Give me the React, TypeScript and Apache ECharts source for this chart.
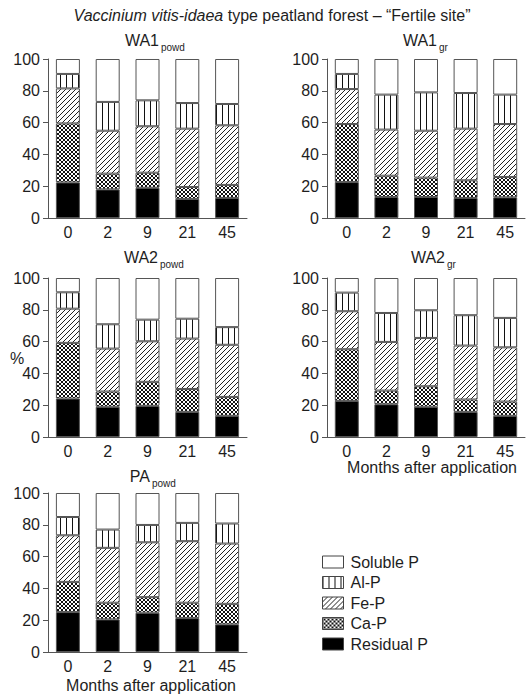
import React, { useEffect, useRef } from 'react';
import * as echarts from 'echarts';

// ---------- data ----------
const months = ['0', '2', '9', '21', '45'];
const legendOrder = ['Soluble P', 'Al-P', 'Fe-P', 'Ca-P', 'Residual P'];

// WA1 powd
const wa1powdResidual = [22.4, 18.0, 19.0, 12.0, 12.6];
const wa1powdCa = [37.1, 9.9, 9.5, 7.5, 8.2];
const wa1powdFe = [22.0, 27.0, 29.2, 36.7, 37.5];
const wa1powdAl = [9.1, 18.1, 16.3, 16.1, 13.4];
const wa1powdSoluble = [9.4, 27.0, 26.0, 27.7, 28.3];

// WA1 gr
const wa1grResidual = [22.6, 13.2, 13.2, 12.6, 13.0];
const wa1grCa = [36.5, 13.4, 12.2, 11.1, 12.8];
const wa1grFe = [22.0, 29.0, 29.5, 32.5, 33.3];
const wa1grAl = [9.5, 22.0, 24.1, 22.4, 18.5];
const wa1grSoluble = [9.4, 22.4, 21.0, 21.4, 22.4];

// WA2 powd
const wa2powdResidual = [24.2, 19.0, 19.6, 15.8, 13.3];
const wa2powdCa = [35.0, 9.6, 15.1, 14.4, 11.9];
const wa2powdFe = [21.5, 27.0, 25.5, 31.7, 32.8];
const wa2powdAl = [10.3, 15.3, 13.6, 12.5, 11.1];
const wa2powdSoluble = [9.0, 29.1, 26.2, 25.6, 30.9];

// WA2 gr
const wa2grResidual = [22.7, 20.6, 19.0, 15.8, 13.3];
const wa2grCa = [32.5, 8.6, 12.9, 7.8, 9.0];
const wa2grFe = [23.9, 30.6, 30.4, 33.9, 34.1];
const wa2grAl = [11.7, 18.2, 17.4, 19.1, 18.5];
const wa2grSoluble = [9.2, 22.0, 20.3, 23.4, 25.1];

// PA powd
const papowdResidual = [25.1, 20.5, 24.7, 21.3, 17.4];
const papowdCa = [19.0, 10.5, 9.8, 9.7, 12.9];
const papowdFe = [29.3, 34.5, 34.5, 38.7, 37.9];
const papowdAl = [11.5, 11.5, 10.9, 11.5, 12.6];
const papowdSoluble = [15.1, 23.0, 20.1, 18.8, 19.2];

const panelData = [
  { main: 'WA1', sub: 'powd', residual: wa1powdResidual, ca: wa1powdCa, fe: wa1powdFe, al: wa1powdAl, soluble: wa1powdSoluble },
  { main: 'WA1', sub: 'gr', residual: wa1grResidual, ca: wa1grCa, fe: wa1grFe, al: wa1grAl, soluble: wa1grSoluble },
  { main: 'WA2', sub: 'powd', residual: wa2powdResidual, ca: wa2powdCa, fe: wa2powdFe, al: wa2powdAl, soluble: wa2powdSoluble },
  { main: 'WA2', sub: 'gr', residual: wa2grResidual, ca: wa2grCa, fe: wa2grFe, al: wa2grAl, soluble: wa2grSoluble },
  { main: 'PA', sub: 'powd', residual: papowdResidual, ca: papowdCa, fe: papowdFe, al: papowdAl, soluble: papowdSoluble },
];

// ---------- layout ----------
const FONT = '"Liberation Sans", Arial, Helvetica, sans-serif';
const TEXT = '#1e1e1e';
const LINE = '#555';
const FS = 16;
const SUB_FS = 10;

const grids = [
  { left: 48, top: 59, width: 199, height: 159 },
  { left: 327, top: 59, width: 198, height: 159 },
  { left: 48, top: 278, width: 199, height: 159 },
  { left: 327, top: 278, width: 198, height: 159 },
  { left: 48, top: 493, width: 199, height: 159 },
];

// title: main text right edge, subscript left edge, main centre y, sub centre y
const titlePos = [
  { mainRight: 159, subLeft: 161, y: 40, subY: 47 },
  { mainRight: 437, subLeft: 439, y: 40, subY: 47 },
  { mainRight: 158, subLeft: 160, y: 257, subY: 264 },
  { mainRight: 445, subLeft: 447, y: 257, subY: 264 },
  { mainRight: 150, subLeft: 152, y: 476, subY: 483 },
];

function makePattern(kind: string) {
  const c = document.createElement('canvas');
  let w = 5;
  let h = 5;
  if (kind === 'vertical') { w = 6; h = 4; }
  if (kind === 'cross') { w = 4; h = 4; }
  c.width = w;
  c.height = h;
  const ctx = c.getContext('2d')!;
  ctx.fillStyle = '#ffffff';
  ctx.fillRect(0, 0, w, h);
  if (kind === 'vertical') {
    ctx.fillStyle = '#111';
    ctx.fillRect(0, 0, 1, h);
  } else if (kind === 'diag') {
    ctx.strokeStyle = '#222';
    ctx.lineWidth = 1;
    ctx.beginPath();
    ctx.moveTo(0, h); ctx.lineTo(w, 0);
    ctx.moveTo(-1, 1); ctx.lineTo(1, -1);
    ctx.moveTo(w - 1, h + 1); ctx.lineTo(w + 1, h - 1);
    ctx.stroke();
  } else if (kind === 'cross') {
    ctx.strokeStyle = '#111';
    ctx.lineWidth = 1;
    ctx.beginPath();
    ctx.moveTo(0, h); ctx.lineTo(w, 0);
    ctx.moveTo(-1, 1); ctx.lineTo(1, -1);
    ctx.moveTo(w - 1, h + 1); ctx.lineTo(w + 1, h - 1);
    ctx.moveTo(0, 0); ctx.lineTo(w, h);
    ctx.moveTo(-1, h - 1); ctx.lineTo(1, h + 1);
    ctx.moveTo(w - 1, -1); ctx.lineTo(w + 1, 1);
    ctx.stroke();
  }
  return { image: c, repeat: 'repeat', imageWidth: w, imageHeight: h } as any;
}

export default function App() {
  const ref = useRef<HTMLDivElement>(null);

  useEffect(() => {
    if (!ref.current) return;
    const chart = echarts.init(ref.current, undefined, { renderer: 'svg' });

    const fills: Record<string, any> = {
      'Residual P': '#000000',
      'Ca-P': makePattern('cross'),
      'Fe-P': makePattern('diag'),
      'Al-P': makePattern('vertical'),
      'Soluble P': '#ffffff',
    };

    const series: any[] = [];
    panelData.forEach((p, i) => {
      const stackOrder: [string, number[]][] = [
        ['Residual P', p.residual],
        ['Ca-P', p.ca],
        ['Fe-P', p.fe],
        ['Al-P', p.al],
        ['Soluble P', p.soluble],
      ];
      stackOrder.forEach(([name, values]) => {
        series.push({
          type: 'bar',
          name,
          xAxisIndex: i,
          yAxisIndex: i,
          stack: 'panel' + i,
          barWidth: 24,
          data: values,
          itemStyle: { color: fills[name], borderColor: LINE, borderWidth: 1 },
          emphasis: { disabled: true },
        });
      });
    });

    const txt = (text: string, x: number, y: number, align = 'center', size = FS) => ({
      type: 'text',
      x,
      y,
      style: { text, fontSize: size, fontFamily: FONT, fill: TEXT, align, verticalAlign: 'middle' },
    });

    const graphic: any[] = [
      {
        type: 'text',
        x: 272,
        y: 15,
        style: {
          text: '{i|Vaccinium vitis-idaea} type peatland forest – “Fertile site”',
          fontSize: FS,
          fontFamily: FONT,
          fill: TEXT,
          align: 'center',
          verticalAlign: 'middle',
          rich: {
            i: { fontStyle: 'italic', fontSize: FS, fontFamily: FONT, fill: TEXT },
          },
        },
      },
      txt('%', 17, 358),
      txt('Months after application', 432, 467),
      txt('Months after application', 151, 685),
    ];
    panelData.forEach((p, i) => {
      const t = titlePos[i];
      graphic.push(txt(p.main, t.mainRight, t.y, 'right', FS));
      graphic.push(txt(p.sub, t.subLeft, t.subY, 'left', SUB_FS));
    });

    const option: any = {
      animation: false,
      backgroundColor: '#ffffff',
      grid: grids.map((g) => ({ ...g, containLabel: false })),
      xAxis: grids.map((_, i) => ({
        type: 'category',
        gridIndex: i,
        data: months,
        axisLine: { show: true, lineStyle: { color: LINE, width: 1 } },
        axisTick: { show: false },
        axisLabel: { fontSize: FS, fontFamily: FONT, color: TEXT, margin: 6 },
        splitLine: { show: false },
      })),
      yAxis: grids.map((_, i) => ({
        type: 'value',
        gridIndex: i,
        min: 0,
        max: 100,
        interval: 20,
        axisLine: { show: true, lineStyle: { color: LINE, width: 1 } },
        axisTick: { show: true, length: 5, lineStyle: { color: LINE, width: 1 } },
        axisLabel: { fontSize: FS, fontFamily: FONT, color: TEXT, margin: 8 },
        splitLine: { show: false },
      })),
      legend: {
        orient: 'vertical',
        left: 317,
        top: 549,
        icon: 'rect',
        itemWidth: 21,
        itemHeight: 12,
        itemGap: 4.5,
        selectedMode: false,
        data: legendOrder,
        itemStyle: { borderColor: '#444', borderWidth: 1 },
        textStyle: { fontSize: FS, lineHeight: 16, fontFamily: FONT, color: TEXT, padding: [0, 0, 0, 2] },
      },
      series,
      graphic,
    };

    chart.setOption(option);
    return () => chart.dispose();
  }, []);

  return (
    <div
      ref={ref}
      style={{ position: 'fixed', left: 0, top: 0, width: 528, height: 698, background: '#fff' }}
    />
  );
}
